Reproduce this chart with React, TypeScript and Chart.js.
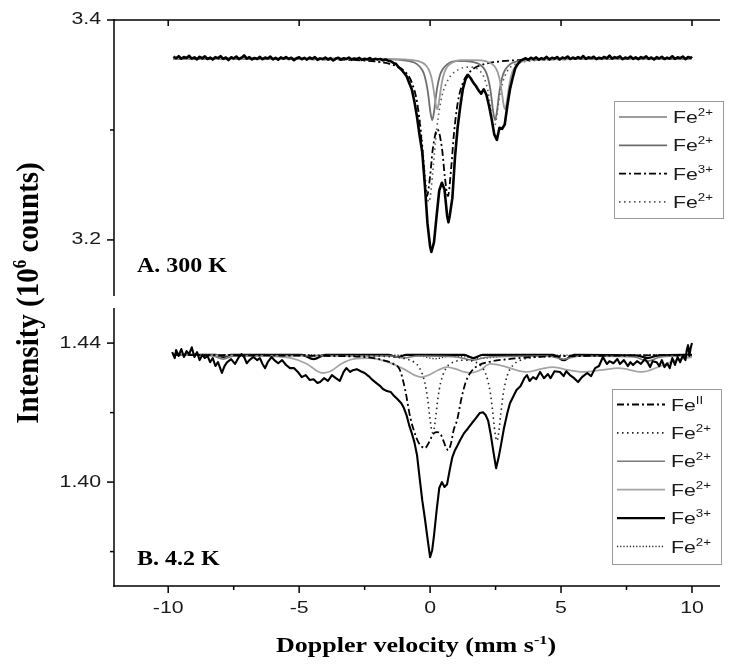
import React, { useEffect, useRef } from 'react';
import { Chart, registerables } from 'chart.js';
Chart.register(...registerables);

// ---------------- axis values ----------------
const X_MIN = -12.07;
const X_MAX = 11.07;
const xMajorTicks = [-10, -5, 0, 5, 10];
const xMinorTicks = [-7.5, -2.5, 2.5, 7.5];
const yRangeA = [3.149, 3.4];
const yMajorTicksA = [3.2, 3.4];
const yMinorTicksA = [3.3];
const yRangeB = [1.3701, 1.4501];
const yMajorTicksB = [1.4, 1.44];
const yMinorTicksB = [1.38, 1.42];

// ---------------- panel A (300 K) ----------------
const A_data: number[][] = [
  [-9.8,3.3668],[-9.7,3.3652],[-9.6,3.3671],[-9.5,3.3648],[-9.4,3.3663],[-9.3,3.3655],[-9.2,3.3674],[-9.1,3.3649],[-9.0,3.3660],[-8.9,3.3642],
  [-8.8,3.3666],[-8.7,3.3651],[-8.6,3.3669],[-8.5,3.3645],[-8.4,3.3658],[-8.3,3.3640],[-8.2,3.3662],[-8.1,3.3653],[-8.0,3.3671],[-7.9,3.3647],
  [-7.8,3.3659],[-7.7,3.3636],[-7.6,3.3661],[-7.5,3.3650],[-7.4,3.3668],[-7.3,3.3644],[-7.2,3.3657],[-7.1,3.3678],[-7.0,3.3649],[-6.9,3.3662],
  [-6.8,3.3641],[-6.7,3.3655],[-6.6,3.3646],[-6.5,3.3665],[-6.4,3.3643],[-6.3,3.3658],[-6.2,3.3650],[-6.1,3.3667],[-6.0,3.3642],[-5.9,3.3656],
  [-5.8,3.3639],[-5.7,3.3660],[-5.6,3.3648],[-5.5,3.3663],[-5.4,3.3645],[-5.3,3.3657],[-5.2,3.3634],[-5.1,3.3652],[-5.0,3.3661],[-4.9,3.3643],
  [-4.8,3.3655],[-4.7,3.3640],[-4.6,3.3659],[-4.5,3.3647],[-4.4,3.3662],[-4.3,3.3638],[-4.2,3.3651],[-4.1,3.3644],[-4.0,3.3658],[-3.9,3.3641],
  [-3.8,3.3653],[-3.7,3.3632],[-3.6,3.3649],[-3.5,3.3657],[-3.4,3.3640],[-3.3,3.3652],[-3.2,3.3645],[-3.1,3.3659],[-3.0,3.3638],[-2.9,3.3650],
  [-2.8,3.3643],[-2.7,3.3655],[-2.6,3.3637],[-2.5,3.3648],[-2.4,3.3641],[-2.3,3.3653],[-2.2,3.3636],[-2.1,3.3647],[-2.0,3.3640],[-1.9,3.3645],
  [-1.8,3.3633],[-1.7,3.3641],[-1.6,3.3630],
  [-1.5,3.3625],[-1.4,3.3610],[-1.3,3.3600],[-1.2,3.3570],[-1.1,3.3550],[-1.0,3.3520],[-0.9,3.3490],[-0.8,3.3430],[-0.7,3.3370],[-0.6,3.3260],
  [-0.5,3.3120],[-0.4,3.2950],[-0.3,3.2800],[-0.2,3.2500],[-0.1,3.2150],[0.0,3.1940],[0.05,3.1890],[0.15,3.1980],[0.25,3.2220],[0.35,3.2450],
  [0.45,3.2520],[0.55,3.2460],[0.65,3.2220],[0.7,3.2160],[0.75,3.2220],[0.85,3.2380],[0.95,3.2750],[1.05,3.3020],[1.15,3.3210],[1.25,3.3370],
  [1.35,3.3460],[1.45,3.3500],[1.55,3.3470],[1.65,3.3430],[1.75,3.3400],[1.85,3.3360],[1.95,3.3330],[2.05,3.3370],[2.15,3.3320],[2.25,3.3220],
  [2.35,3.3100],[2.45,3.2960],[2.55,3.2910],[2.65,3.3020],[2.75,3.3010],[2.85,3.3050],[2.95,3.3220],[3.05,3.3370],[3.15,3.3470],[3.25,3.3560],
  [3.35,3.3600],[3.45,3.3630],
  [3.55,3.3641],[3.65,3.3652],[3.75,3.3638],[3.85,3.3657],[3.95,3.3644],[4.05,3.3660],[4.15,3.3640],[4.25,3.3653],[4.35,3.3646],[4.45,3.3665],
  [4.55,3.3642],[4.65,3.3656],[4.75,3.3649],[4.85,3.3663],[4.95,3.3641],[5.05,3.3658],[5.15,3.3651],[5.25,3.3668],[5.35,3.3645],[5.45,3.3659],
  [5.55,3.3648],[5.65,3.3662],[5.75,3.3650],[5.85,3.3672],[5.95,3.3646],[6.05,3.3661],[6.15,3.3652],[6.25,3.3666],[6.35,3.3644],[6.45,3.3657],
  [6.55,3.3649],[6.65,3.3664],[6.75,3.3651],[6.85,3.3676],[6.95,3.3648],[7.05,3.3662],[7.15,3.3655],[7.25,3.3670],[7.35,3.3643],[7.45,3.3658],
  [7.55,3.3650],[7.65,3.3667],[7.75,3.3647],[7.85,3.3660],[7.95,3.3644],[8.05,3.3663],[8.15,3.3652],[8.25,3.3669],[8.35,3.3646],[8.45,3.3659],
  [8.55,3.3641],[8.65,3.3662],[8.75,3.3650],[8.85,3.3666],[8.95,3.3645],[9.05,3.3658],[9.15,3.3649],[9.25,3.3670],[9.35,3.3647],[9.45,3.3661],
  [9.55,3.3652],[9.65,3.3668],[9.75,3.3644],[9.85,3.3663],[9.95,3.3655],[10.0,3.3667],
];

const A_fe2_light: number[][] = [
  [-9.8,3.3650],[-1.5,3.3644],[-0.63,3.3634],[-0.33,3.3616],[-0.13,3.3580],[-0.01,3.3526],[0.09,3.3433],[0.17,3.3308],[0.22,3.3227],[0.27,3.3190],
  [0.32,3.3227],[0.37,3.3308],[0.45,3.3433],[0.55,3.3526],[0.67,3.3580],[0.87,3.3616],[1.17,3.3634],[1.57,3.3635],[1.96,3.3632],[2.26,3.3614],
  [2.46,3.3580],[2.58,3.3526],[2.68,3.3433],[2.76,3.3308],[2.81,3.3227],[2.86,3.3190],[2.91,3.3227],[2.96,3.3308],[3.04,3.3433],[3.14,3.3526],
  [3.26,3.3580],[3.46,3.3616],[3.76,3.3634],[4.5,3.3645],[10.0,3.3650],
];

const A_fe2_dark: number[][] = [
  [-9.8,3.3650],[-3.0,3.3648],[-1.5,3.3643],[-0.8,3.3626],[-0.5,3.3599],[-0.3,3.3545],[-0.2,3.3484],[-0.1,3.3370],[-0.05,3.3280],[0.0,3.3180],
  [0.08,3.3090],[0.16,3.3180],[0.21,3.3280],[0.26,3.3370],[0.36,3.3484],[0.46,3.3545],[0.66,3.3599],[0.96,3.3626],[1.3,3.3626],[1.6,3.3620],
  [1.9,3.3596],[2.1,3.3543],[2.2,3.3482],[2.3,3.3370],[2.35,3.3280],[2.4,3.3180],[2.48,3.3090],[2.56,3.3180],[2.61,3.3280],[2.66,3.3370],
  [2.76,3.3484],[2.86,3.3545],[3.06,3.3599],[3.36,3.3626],[4.0,3.3642],[6.0,3.3648],[10.0,3.3650],
];

const A_fe3_dashdot: number[][] = [
  [-9.8,3.3649],[-4.0,3.3642],[-2.1,3.3623],[-1.5,3.3598],[-1.0,3.3539],[-0.7,3.3433],[-0.5,3.3253],[-0.35,3.2963],[-0.25,3.2667],[-0.12,3.2398],
  [0.0,3.2580],[0.1,3.2821],[0.28,3.3004],[0.46,3.2821],[0.56,3.2580],[0.68,3.2398],[0.81,3.2667],[0.91,3.2963],[1.06,3.3253],[1.26,3.3433],
  [1.56,3.3539],[2.06,3.3598],[2.66,3.3623],[3.5,3.3636],[5.0,3.3643],[10.0,3.3648],
];

const A_fe2_dotted: number[][] = [
  [-9.8,3.3649],[-4.0,3.3642],[-2.0,3.3620],[-1.2,3.3567],[-0.8,3.3471],[-0.55,3.3306],[-0.4,3.3099],[-0.3,3.2883],[-0.2,3.2610],[-0.1,3.2385],
  [-0.05,3.2345],[0.0,3.2385],[0.1,3.2610],[0.2,3.2883],[0.3,3.3099],[0.45,3.3306],[0.7,3.3462],[1.1,3.3551],[1.5,3.3572],[1.85,3.3547],
  [2.05,3.3485],[2.2,3.3364],[2.3,3.3217],[2.38,3.3083],[2.45,3.3029],[2.52,3.3085],[2.6,3.3220],[2.7,3.3366],[2.85,3.3487],[3.05,3.3567],
  [3.4,3.3609],[4.0,3.3631],[6.0,3.3644],[10.0,3.3648],
];

// ---------------- panel B (4.2 K) ----------------
const B_data: number[][] = [
  [-9.85,1.4374],[-9.75,1.4357],[-9.7,1.4380],[-9.6,1.4363],[-9.5,1.4383],[-9.4,1.4360],[-9.3,1.4377],[-9.2,1.4368],[-9.1,1.4388],[-9.0,1.4360],
  [-8.9,1.4374],[-8.8,1.4351],[-8.7,1.4366],[-8.6,1.4357],[-8.5,1.4363],[-8.4,1.4345],[-8.3,1.4357],[-8.2,1.4334],[-8.1,1.4345],[-7.95,1.4314],
  [-7.85,1.4334],[-7.75,1.4345],[-7.6,1.4354],[-7.45,1.4340],[-7.3,1.4360],[-7.2,1.4368],[-7.1,1.4360],[-7.0,1.4342],[-6.9,1.4351],[-6.75,1.4360],
  [-6.6,1.4351],[-6.5,1.4357],[-6.4,1.4340],[-6.3,1.4328],[-6.2,1.4345],[-6.05,1.4360],[-5.95,1.4351],[-5.8,1.4342],[-5.65,1.4351],[-5.5,1.4337],
  [-5.35,1.4328],[-5.2,1.4328],[-5.05,1.4317],[-4.9,1.4302],[-4.75,1.4308],[-4.6,1.4294],[-4.45,1.4296],[-4.3,1.4285],[-4.2,1.4288],[-4.05,1.4299],
  [-3.9,1.4291],[-3.75,1.4308],[-3.6,1.4299],[-3.45,1.4291],[-3.3,1.4317],[-3.2,1.4328],[-3.05,1.4317],[-2.95,1.4322],[-2.8,1.4325],[-2.65,1.4319],
  [-2.5,1.4314],[-2.35,1.4305],[-2.2,1.4294],[-2.05,1.4285],[-1.9,1.4276],[-1.8,1.4268],[-1.65,1.4262],[-1.5,1.4259],[-1.4,1.4250],[-1.25,1.4239],
  [-1.1,1.4227],[-1.0,1.4213],[-0.9,1.4193],[-0.8,1.4164],[-0.7,1.4141],[-0.6,1.4115],[-0.5,1.4078],[-0.4,1.4012],[-0.3,1.3948],[-0.2,1.3896],
  [-0.1,1.3839],[0.0,1.3784],[0.08,1.3804],[0.15,1.3847],[0.25,1.3919],[0.35,1.3983],[0.45,1.4000],[0.55,1.3986],[0.65,1.3994],[0.75,1.4035],
  [0.85,1.4072],[0.95,1.4092],[1.05,1.4106],[1.15,1.4121],[1.3,1.4141],[1.45,1.4155],[1.6,1.4170],[1.75,1.4184],[1.9,1.4199],[2.02,1.4201],
  [2.12,1.4193],[2.22,1.4176],[2.32,1.4135],[2.42,1.4086],[2.52,1.4040],[2.62,1.4072],[2.72,1.4112],[2.82,1.4155],[2.95,1.4199],[3.05,1.4227],
  [3.2,1.4250],[3.3,1.4265],[3.45,1.4276],[3.6,1.4299],[3.7,1.4308],[3.8,1.4291],[3.93,1.4302],[4.05,1.4296],[4.2,1.4317],[4.35,1.4299],
  [4.5,1.4311],[4.6,1.4299],[4.75,1.4319],[4.96,1.4317],[5.1,1.4305],[5.2,1.4319],[5.34,1.4308],[5.5,1.4299],[5.65,1.4288],[5.8,1.4302],
  [6.0,1.4314],[6.15,1.4305],[6.3,1.4328],[6.45,1.4334],[6.6,1.4360],[6.75,1.4340],[6.85,1.4348],[7.0,1.4342],[7.15,1.4354],[7.25,1.4340],
  [7.4,1.4351],[7.55,1.4334],[7.65,1.4345],[7.75,1.4337],[7.9,1.4348],[8.05,1.4340],[8.2,1.4354],[8.3,1.4345],[8.4,1.4331],[8.5,1.4348],
  [8.65,1.4345],[8.75,1.4334],[8.85,1.4351],[8.95,1.4331],[9.05,1.4342],[9.15,1.4328],[9.25,1.4357],[9.35,1.4337],[9.45,1.4360],[9.55,1.4345],
  [9.65,1.4365],[9.75,1.4351],[9.8,1.4380],[9.85,1.4394],[9.9,1.4363],[9.95,1.4386],[10.0,1.4400],
];

const B_feII_dashdot: number[][] = [
  [-9.8,1.4366],[-4.0,1.4363],[-2.5,1.4360],[-1.8,1.4351],[-1.4,1.4340],[-1.15,1.4322],[-0.95,1.4265],[-0.76,1.4187],[-0.6,1.4144],[-0.45,1.4115],
  [-0.3,1.4101],[-0.19,1.4098],[-0.08,1.4109],[0.05,1.4129],[0.15,1.4141],[0.27,1.4144],[0.4,1.4138],[0.5,1.4121],[0.6,1.4101],[0.69,1.4092],
  [0.8,1.4112],[0.9,1.4150],[1.03,1.4178],[1.2,1.4242],[1.35,1.4285],[1.53,1.4314],[1.8,1.4334],[2.2,1.4345],[3.0,1.4354],[4.0,1.4360],
  [6.0,1.4363],[10.0,1.4366],
];

const B_fe2_dotted: number[][] = [
  [-9.8,1.43655],[-3.0,1.43643],[-1.5,1.43606],[-1.0,1.43560],[-0.6,1.43445],[-0.4,1.43281],[-0.2,1.42863],[-0.1,1.42426],[0.0,1.41801],[0.05,1.41531],
  [0.1,1.41421],[0.15,1.41528],[0.2,1.41778],[0.3,1.42417],[0.4,1.42852],[0.6,1.43266],[0.8,1.43419],[1.1,1.43499],[1.4,1.43508],[1.7,1.43462],
  [1.95,1.43332],[2.15,1.43062],[2.3,1.42564],[2.4,1.41962],[2.47,1.41473],[2.55,1.41188],[2.63,1.41476],[2.7,1.41968],[2.8,1.42570],[2.95,1.43073],
  [3.15,1.43350],[3.4,1.43491],[3.8,1.43574],[4.5,1.43617],[6.0,1.43640],[10.0,1.43652],
];

const B_fe2_dark: number[][] = [
  [-9.8,1.4366],[-8.3,1.4363],[-7.9,1.4354],[-7.5,1.4363],[-5.0,1.4364],[-1.5,1.4363],[-1.0,1.4357],[-0.5,1.4363],[1.0,1.4360],[1.65,1.4351],
  [2.2,1.4360],[4.5,1.4363],[5.1,1.4354],[5.7,1.4363],[7.8,1.4360],[8.3,1.4348],[8.8,1.4360],[10.0,1.4364],
];

const B_fe2_light: number[][] = [
  [-9.8,1.4366],[-6.5,1.4363],[-5.3,1.4357],[-4.7,1.4340],[-4.3,1.4319],[-4.1,1.4314],[-3.8,1.4319],[-3.4,1.4340],[-2.95,1.4354],[-2.3,1.4357],
  [-1.6,1.4345],[-1.0,1.4325],[-0.6,1.4308],[-0.35,1.4302],[-0.05,1.4308],[0.3,1.4322],[0.65,1.4331],[1.0,1.4325],[1.3,1.4317],[1.55,1.4314],
  [1.9,1.4322],[2.3,1.4340],[2.8,1.4334],[3.3,1.4322],[3.7,1.4317],[4.2,1.4325],[4.7,1.4331],[5.3,1.4322],[5.85,1.4317],[6.5,1.4322],
  [7.2,1.4328],[8.1,1.4317],[8.8,1.4334],[9.4,1.4351],[10.0,1.4360],
];

const B_fe3: number[][] = [
  [-9.8,1.4366],[-8.2,1.4366],[-7.9,1.4360],[-7.6,1.4366],[-4.9,1.4366],[-4.45,1.4354],[-4.0,1.4366],[-1.6,1.4366],[-1.25,1.4360],[-0.9,1.4366],
  [1.3,1.4366],[1.65,1.4357],[2.0,1.4366],[4.7,1.4366],[5.1,1.4351],[5.5,1.4366],[7.9,1.4364],[8.3,1.4357],[8.7,1.4364],[10.0,1.4366],
];

const B_fe2_fine: number[][] = [
  [-9.8,1.4366],[-1.0,1.4365],[-0.3,1.4362],[0.2,1.4355],[0.7,1.4362],[1.4,1.4360],[2.0,1.4356],[2.6,1.4361],[4.0,1.4365],[10.0,1.4366],
];

// ---------------- texts ----------------
const legendA = [
  { base: 'Fe', sup: '2+' },
  { base: 'Fe', sup: '2+' },
  { base: 'Fe', sup: '3+' },
  { base: 'Fe', sup: '2+' },
];
const legendB = [
  { base: 'Fe', sup: 'II' },
  { base: 'Fe', sup: '2+' },
  { base: 'Fe', sup: '2+' },
  { base: 'Fe', sup: '2+' },
  { base: 'Fe', sup: '3+' },
  { base: 'Fe', sup: '2+' },
];
const panelLabelA = 'A. 300 K';
const panelLabelB = 'B. 4.2 K';
const yTitleRuns = [{ t: 'Intensity (10' }, { t: '6', sup: true }, { t: ' counts)' }];
const xTitleRuns = [{ t: 'Doppler velocity (mm s' }, { t: '-1', sup: true }, { t: ')' }];

// ---------------- styles ----------------
const ST = 1.33; // horizontal text stretch of the original figure
const SANS = '"Liberation Sans", Arial, sans-serif';
const SERIF = '"Liberation Serif", "Times New Roman", serif';
const DASHDOT = [7, 3, 2, 3];
const DOTS = [1.5, 3.5];
const FINEDOTS = [1.2, 2];

const stA = [
  { color: '#9c9c9c', width: 1.8, dash: [] as number[] },
  { color: '#6e6e6e', width: 1.8, dash: [] as number[] },
  { color: '#000000', width: 1.8, dash: DASHDOT },
  { color: '#555555', width: 1.6, dash: DOTS },
];
const stB = [
  { color: '#000000', width: 1.8, dash: DASHDOT },
  { color: '#222222', width: 1.6, dash: DOTS },
  { color: '#7a7a7a', width: 1.6, dash: [] as number[] },
  { color: '#a5a5a5', width: 1.8, dash: [] as number[] },
  { color: '#000000', width: 2.2, dash: [] as number[] },
  { color: '#222222', width: 1.4, dash: FINEDOTS },
];

type Run = { t: string; sup?: boolean };

function drawRuns(
  ctx: CanvasRenderingContext2D, runs: Run[], x: number, y: number,
  size: number, supSize: number, family: string, weight: string,
  align: 'left' | 'center' | 'right', rise: number, sx: number, rotate = false,
) {
  ctx.save();
  const widths = runs.map((r) => {
    ctx.font = `${weight} ${r.sup ? supSize : size}px ${family}`;
    return ctx.measureText(r.t).width;
  });
  const total = widths.reduce((a, b) => a + b, 0);
  const start = align === 'left' ? 0 : align === 'center' ? -total / 2 : -total;
  ctx.translate(x, y);
  if (rotate) {
    ctx.rotate(-Math.PI / 2);
    ctx.scale(1, sx);
  } else {
    ctx.scale(sx, 1);
  }
  ctx.textBaseline = 'alphabetic';
  ctx.textAlign = 'left';
  let cx = start;
  runs.forEach((r, i) => {
    ctx.font = `${weight} ${r.sup ? supSize : size}px ${family}`;
    ctx.fillText(r.t, cx, r.sup ? -rise : 0);
    cx += widths[i];
  });
  ctx.restore();
}

function tickText(ctx: CanvasRenderingContext2D, t: string, x: number, y: number, align: 'right' | 'center') {
  ctx.save();
  ctx.font = `16px ${SANS}`;
  ctx.fillStyle = '#1a1a1a';
  const w = ctx.measureText(t).width * ST;
  const x0 = align === 'right' ? x - w : x - w / 2;
  ctx.translate(x0, y);
  ctx.scale(ST, 1);
  ctx.textBaseline = 'middle';
  ctx.textAlign = 'left';
  ctx.fillText(t, 0, 0);
  ctx.restore();
}

function seg(ctx: CanvasRenderingContext2D, x1: number, y1: number, x2: number, y2: number) {
  ctx.beginPath();
  ctx.moveTo(x1, y1);
  ctx.lineTo(x2, y2);
  ctx.stroke();
}

function drawLegend(
  ctx: CanvasRenderingContext2D, items: { base: string; sup: string }[],
  styles: { color: string; width: number; dash: number[] }[],
  box: [number, number, number, number], firstY: number, step: number,
) {
  ctx.save();
  ctx.fillStyle = '#ffffff';
  ctx.fillRect(box[0], box[1], box[2], box[3]);
  ctx.strokeStyle = '#9a9a9a';
  ctx.lineWidth = 1;
  ctx.setLineDash([]);
  ctx.strokeRect(box[0] + 0.5, box[1] + 0.5, box[2], box[3]);
  items.forEach((it, i) => {
    const y = firstY + i * step;
    const s = styles[i];
    ctx.save();
    ctx.strokeStyle = s.color;
    ctx.lineWidth = s.width;
    ctx.setLineDash(s.dash);
    seg(ctx, box[0] + 5, y, box[0] + 53, y);
    ctx.restore();
    ctx.fillStyle = '#1a1a1a';
    drawRuns(ctx, [{ t: it.base }, { t: it.sup, sup: true }], box[0] + 59, y + 6, 16, 10, SANS, 'normal', 'left', 7, ST);
  });
  ctx.restore();
}

function toDataset(pts: number[][], s: { color: string; width: number; dash: number[] }, smooth: boolean) {
  return {
    data: pts.map(([x, y]) => ({ x, y })),
    showLine: true,
    pointRadius: 0,
    borderColor: s.color,
    borderWidth: s.width,
    borderDash: s.dash,
    fill: false,
    tension: 0,
    cubicInterpolationMode: smooth ? 'monotone' : 'default',
    borderJoinStyle: 'round',
  } as any;
}

function baseOptions(yMin: number, yMax: number, padding: any) {
  return {
    responsive: false,
    animation: false,
    events: [],
    layout: { padding },
    plugins: { legend: { display: false }, tooltip: { enabled: false } },
    scales: {
      x: { type: 'linear', min: X_MIN, max: X_MAX, display: false },
      y: { type: 'linear', min: yMin, max: yMax, display: false },
    },
  } as any;
}

export default function App() {
  const refA = useRef<HTMLCanvasElement>(null);
  const refB = useRef<HTMLCanvasElement>(null);

  useEffect(() => {
    const dataStyle = { color: '#000000', width: 2.6, dash: [] as number[] };
    const chartB = new Chart(refB.current as HTMLCanvasElement, {
      type: 'scatter',
      data: {
        datasets: [
          toDataset(B_data, { color: '#000000', width: 2.1, dash: [] }, false),
          toDataset(B_feII_dashdot, stB[0], true),
          toDataset(B_fe2_dotted, stB[1], true),
          toDataset(B_fe2_dark, stB[2], true),
          toDataset(B_fe2_light, stB[3], true),
          toDataset(B_fe3, stB[4], true),
          toDataset(B_fe2_fine, stB[5], true),
        ],
      },
      options: baseOptions(yRangeB[0], yRangeB[1], { left: 114, right: 16, top: 308, bottom: 79 }),
      plugins: [{
        id: 'frameB',
        beforeDraw(chart: any) {
          const c = chart.ctx;
          c.save();
          c.fillStyle = '#ffffff';
          c.fillRect(0, 0, chart.width, chart.height);
          c.restore();
        },
        afterDraw(chart: any) {
          const c: CanvasRenderingContext2D = chart.ctx;
          const { left, right, top, bottom } = chart.chartArea;
          const sx = chart.scales.x, sy = chart.scales.y;
          c.save();
          c.strokeStyle = '#000';
          c.lineWidth = 1.5;
          c.setLineDash([]);
          seg(c, left, top, left, bottom + 0.75);
          seg(c, left - 0.75, bottom, right, bottom);
          yMajorTicksB.forEach((v) => {
            const y = sy.getPixelForValue(v);
            seg(c, left - 7, y, left, y);
            tickText(c, v.toFixed(2), left - 13, y, 'right');
          });
          yMinorTicksB.forEach((v) => { const y = sy.getPixelForValue(v); seg(c, left - 4, y, left, y); });
          xMajorTicks.forEach((v) => {
            const x = sx.getPixelForValue(v);
            seg(c, x, bottom, x, bottom + 7);
            tickText(c, String(v), x, bottom + 23, 'center');
          });
          xMinorTicks.forEach((v) => { const x = sx.getPixelForValue(v); seg(c, x, bottom, x, bottom + 4); });
          c.fillStyle = '#000';
          drawRuns(c, [{ t: panelLabelB }], 137, 565, 20, 20, SERIF, 'bold', 'left', 0, 1.2);
          drawRuns(c, xTitleRuns, 416, 652, 21.7, 13.5, SERIF, 'bold', 'center', 8, 1.2);
          drawRuns(c, yTitleRuns, 38, 293, 29, 17, SERIF, 'bold', 'center', 11, 1.1, true);
          c.restore();
          drawLegend(c, legendB, stB, [612, 389, 109, 175], 404.5, 28.4);
        },
      }],
    } as any);

    const chartA = new Chart(refA.current as HTMLCanvasElement, {
      type: 'scatter',
      data: {
        datasets: [
          toDataset(A_data, dataStyle, false),
          toDataset(A_fe2_light, stA[0], true),
          toDataset(A_fe2_dark, stA[1], true),
          toDataset(A_fe3_dashdot, stA[2], true),
          toDataset(A_fe2_dotted, stA[3], true),
        ],
      },
      options: baseOptions(yRangeA[0], yRangeA[1], { left: 114, right: 16, top: 20, bottom: 369 }),
      plugins: [{
        id: 'frameA',
        afterDraw(chart: any) {
          const c: CanvasRenderingContext2D = chart.ctx;
          const { left, right, top, bottom } = chart.chartArea;
          const sx = chart.scales.x, sy = chart.scales.y;
          c.save();
          c.strokeStyle = '#000';
          c.lineWidth = 1.5;
          c.setLineDash([]);
          seg(c, left, top - 0.75, left, bottom);
          seg(c, left - 0.75, top, right, top);
          yMajorTicksA.forEach((v) => {
            const y = sy.getPixelForValue(v);
            seg(c, left - 7, y, left, y);
            tickText(c, v.toFixed(1), left - 13, y, 'right');
          });
          yMinorTicksA.forEach((v) => { const y = sy.getPixelForValue(v); seg(c, left - 4, y, left, y); });
          xMajorTicks.forEach((v) => { const x = sx.getPixelForValue(v); seg(c, x, top, x, top + 6); });
          c.fillStyle = '#000';
          drawRuns(c, [{ t: panelLabelA }], 137, 272, 20, 20, SERIF, 'bold', 'left', 0, 1.2);
          c.restore();
          drawLegend(c, legendA, stA, [614, 101, 109, 117], 117, 28.3);
        },
      }],
    } as any);

    return () => {
      chartA.destroy();
      chartB.destroy();
    };
  }, []);

  const cs: React.CSSProperties = { position: 'absolute', left: 0, top: 0 };
  return (
    <div style={{ position: 'absolute', left: 0, top: 0, width: 736, height: 665, background: '#fff' }}>
      <canvas ref={refB} width={736} height={665} style={cs} />
      <canvas ref={refA} width={736} height={665} style={cs} />
    </div>
  );
}
